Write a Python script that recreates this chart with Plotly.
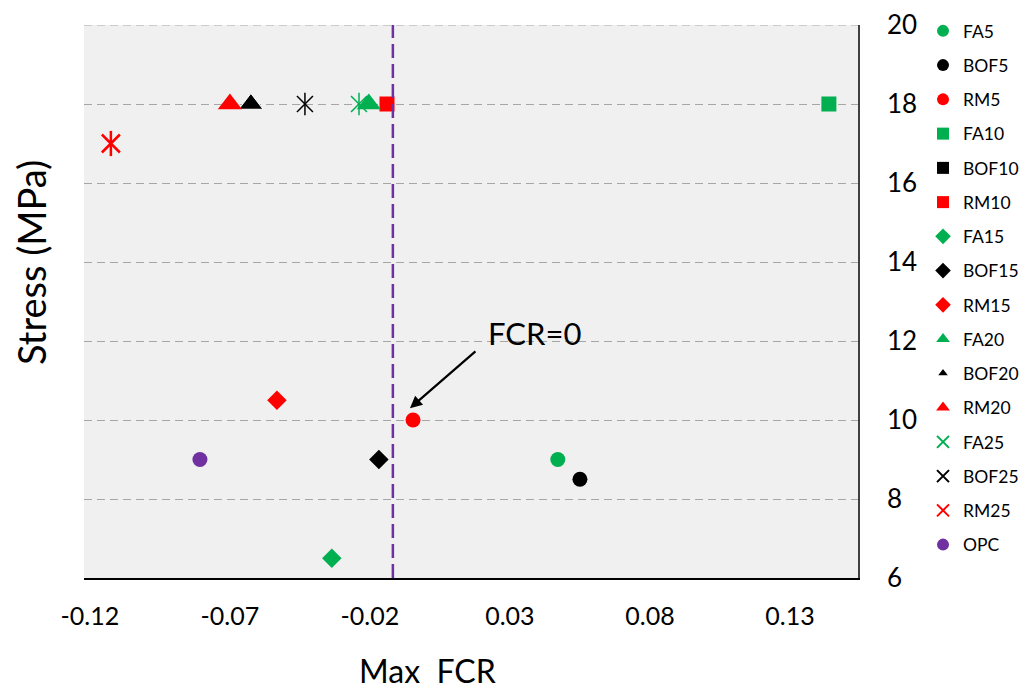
import plotly.graph_objects as go

# ---- data ----
names = ["FA5", "BOF5", "RM5", "FA10", "BOF10", "RM10", "FA15", "BOF15",
         "RM15", "FA20", "BOF20", "RM20", "FA25", "BOF25", "RM25", "OPC"]
max_fcr = [0.0471, 0.0550, -0.0046, 0.1439, -0.0139, -0.0139, -0.0336, -0.0168,
           -0.0532, -0.0204, -0.0625, -0.0700, -0.0239, -0.0432, -0.1125, -0.0807]
stress = [9.0, 8.5, 10.0, 18.0, 18.0, 18.0, 6.5, 9.0,
          10.5, 18.0, 18.0, 18.0, 18.0, 18.0, 17.0, 9.0]

x_tickvals = [-0.12, -0.07, -0.02, 0.03, 0.08, 0.13]
x_ticktext = ["-0.12", "-0.07", "-0.02", "0.03", "0.08", "0.13"]
y_tickvals = [6, 8, 10, 12, 14, 16, 18, 20]

fcr_zero_line = -0.0118          # position of the dashed "FCR=0" line
arrow_head = (-0.0057, 10.30)    # arrow tip near RM5
label_pos = (0.0389, 12.2)       # "FCR=0" text

# ---- styles ----
GREEN, BLACK, RED, PURPLE = "#00B050", "#000000", "#FF0000", "#7030A0"
styles = {
    "FA5": dict(symbol="circle", color=GREEN, size=15),
    "BOF5": dict(symbol="circle", color=BLACK, size=15),
    "RM5": dict(symbol="circle", color=RED, size=15),
    "FA10": dict(symbol="square", color=GREEN, size=15),
    "BOF10": dict(symbol="square", color=BLACK, size=14),
    "RM10": dict(symbol="square", color=RED, size=15),
    "FA15": dict(symbol="diamond", color=GREEN, size=15),
    "BOF15": dict(symbol="diamond", color=BLACK, size=15),
    "RM15": dict(symbol="diamond", color=RED, size=15),
    "FA20": dict(symbol="triangle-up", color=GREEN, size=21),
    "BOF20": dict(symbol="triangle-up", color=BLACK, size=21, line=dict(color="white", width=1)),
    "RM20": dict(symbol="triangle-up", color=RED, size=21),
    "FA25": dict(symbol="x-thin-open", color=GREEN, size=16, lw=1.5),
    "BOF25": dict(symbol="x-thin-open", color=BLACK, size=16, lw=1.5),
    "RM25": dict(symbol="x-thin-open", color=RED, size=18, lw=2.5),
    "OPC": dict(symbol="circle", color=PURPLE, size=15),
}

FONT = "Lato, 'DejaVu Sans', sans-serif"

fig = go.Figure()

# asterisk series first so that the other markers sit on top of them
order = [i for i, n in enumerate(names) if n.endswith("25")] + \
        [i for i, n in enumerate(names) if not n.endswith("25")]

for i in order:
    n = names[i]
    st = styles[n]
    if st["symbol"] == "x-thin-open":
        mk = dict(symbol="x-thin-open", size=st["size"], color=st["color"],
                  line=dict(color=st["color"], width=st["lw"]))
        fig.add_trace(go.Scatter(x=[max_fcr[i]], y=[stress[i]], mode="markers",
                                 name=n, legendgroup=n, legendrank=i + 1,
                                 marker=mk, hoverinfo="name"))
        fig.add_trace(go.Scatter(x=[max_fcr[i]], y=[stress[i]], mode="markers",
                                 name=n, legendgroup=n, showlegend=False,
                                 marker=dict(symbol="line-ns-open", size=st["size"],
                                             color=st["color"],
                                             line=dict(color=st["color"], width=st["lw"])),
                                 hoverinfo="skip"))
    else:
        mk = dict(symbol=st["symbol"], size=st["size"], color=st["color"],
                  line=st.get("line", dict(width=0)))
        fig.add_trace(go.Scatter(x=[max_fcr[i]], y=[stress[i]], mode="markers",
                                 name=n, legendgroup=n, legendrank=i + 1,
                                 marker=mk, hoverinfo="name"))

# dashed gridline at the top edge (plotly omits the edge gridline)
fig.add_shape(type="line", xref="x domain", yref="y", x0=0, x1=1, y0=y_tickvals[-1],
              y1=y_tickvals[-1], line=dict(color="#A6A6A6", width=1, dash="8px,5px"),
              layer="below")

# dashed FCR=0 line (drawn above the markers)
fig.add_shape(type="line", xref="x", yref="y domain", x0=fcr_zero_line, x1=fcr_zero_line,
              y0=0, y1=1, line=dict(color=PURPLE, width=2.5, dash="14px,6px"), layer="above")

# arrow + label
fig.add_annotation(x=arrow_head[0], y=arrow_head[1], xref="x", yref="y", text="",
                   showarrow=True, ax=67, ay=-58, arrowhead=2, arrowsize=1.1,
                   arrowwidth=2.2, arrowcolor="black")
fig.add_annotation(x=label_pos[0], y=label_pos[1], xref="x", yref="y", text="FCR=0",
                   showarrow=False, font=dict(family=FONT, size=31, color="black"))

# axis titles as annotations
fig.add_annotation(xref="paper", yref="paper", x=-0.0685, y=0.5714, text="Stress (MPa)",
                   textangle=-90, showarrow=False, xanchor="center", yanchor="middle",
                   font=dict(family=FONT, size=38, color="black"))
fig.add_annotation(xref="paper", yref="paper", x=0.4444, y=-0.1664, text="Max\u00a0\u00a0FCR",
                   showarrow=False, xanchor="center", yanchor="middle",
                   font=dict(family=FONT, size=32, color="black"))

# the page adds an 8px body margin, so the figure is offset by 8px
fig.update_layout(
    width=1014, height=683,
    margin=dict(l=76, r=164, t=17, b=113, autoexpand=False),
    paper_bgcolor="white", plot_bgcolor="#F0F0F0",
    font=dict(family=FONT, color="black"),
    showlegend=True,
    legend=dict(x=1.0840, y=1.0217, xanchor="left", yanchor="top",
                font=dict(family=FONT, size=17.5, color="black"),
                tracegroupgap=8.5, itemsizing="constant", bgcolor="rgba(0,0,0,0)",
                maxheight=1.0),
    xaxis=dict(range=[-0.1221, 0.1543], tickvals=x_tickvals, ticktext=x_ticktext,
               showgrid=False, zeroline=False, showline=True, linecolor="black",
               linewidth=1.5, ticks="", ticklabelstandoff=15,
               tickfont=dict(family=FONT, size=25, color="black")),
    yaxis=dict(range=[6, 20], tickvals=y_tickvals, side="right",
               showgrid=True, gridcolor="#A6A6A6", gridwidth=1, griddash="8px,5px",
               zeroline=False, showline=True, linecolor="#404040", linewidth=1.5,
               ticks="", ticklabelstandoff=22,
               tickfont=dict(family=FONT, size=26, color="black")),
)

fig.write_html("out.html")
